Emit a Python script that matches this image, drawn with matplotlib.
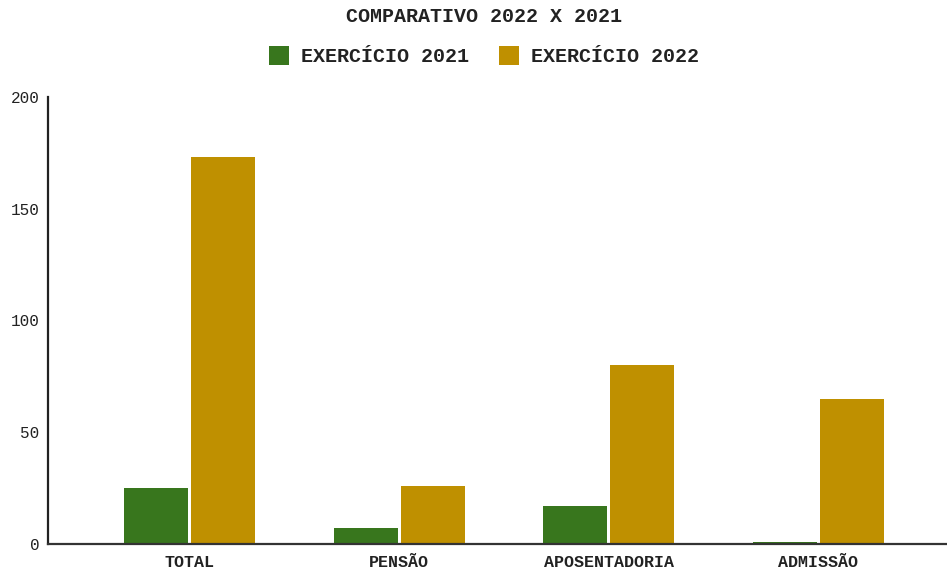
import matplotlib
matplotlib.use("Agg")
import matplotlib.pyplot as plt
import numpy as np
from matplotlib.patches import Patch

categories = ["TOTAL", "PENSÃO", "APOSENTADORIA", "ADMISSÃO"]
series_names = ["EXERCÍCIO 2021", "EXERCÍCIO 2022"]
values_2021 = [25, 7, 17, 1]
values_2022 = [173, 26, 80, 65]
colors = ["#38761d", "#bf9000"]
yticks = [0, 50, 100, 150, 200]

plt.rcParams['font.family'] = ['Liberation Mono', 'DejaVu Sans']

W, H = 947, 570
fig = plt.figure(figsize=(W / 100, H / 100), dpi=100)
ax = fig.add_axes([48 / W, (H - 544) / H, (W - 48) / W, (544 - 97) / H])

x = np.arange(len(categories))
bw = 0.305
gap = 0.007
ax.bar(x - bw / 2 - gap, values_2021, bw, color=colors[0], label=series_names[0])
ax.bar(x + bw / 2 + gap, values_2022, bw, color=colors[1], label=series_names[1])

ax.set_ylim(0, 200)
ax.set_xlim(-0.675, 3.613)
ax.set_yticks(yticks)
ax.set_yticklabels([str(v) for v in yticks], fontsize=11.5)
ax.set_xticks(x)
ax.set_xticklabels(categories, fontsize=12, fontweight='bold')
ax.tick_params(axis='both', length=0, colors='#222222')
ax.tick_params(axis='y', pad=6)
ax.tick_params(axis='x', pad=8)
for s in ['top', 'right']:
    ax.spines[s].set_visible(False)
ax.spines['left'].set_linewidth(1.6)
ax.spines['left'].set_color('#222222')
ax.spines['bottom'].set_linewidth(1.6)
ax.spines['bottom'].set_color('#333333')

fig.text(484 / W, 1 - 16 / H, "COMPARATIVO 2022 X 2021", ha='center', va='center',
         fontsize=14.4, fontweight='bold', color='#222222')

handles = [Patch(facecolor=c, edgecolor='none') for c in colors]
fig.legend(handles, series_names, loc='center', bbox_to_anchor=(484 / W, 1 - 56 / H),
           ncol=2, frameon=False, prop={'size': 14.4, 'weight': 'bold'},
           handlelength=1.0, handleheight=1.1, handletextpad=0.6, columnspacing=1.5,
           labelcolor='#222222')

fig.savefig("out.png", dpi=100)
